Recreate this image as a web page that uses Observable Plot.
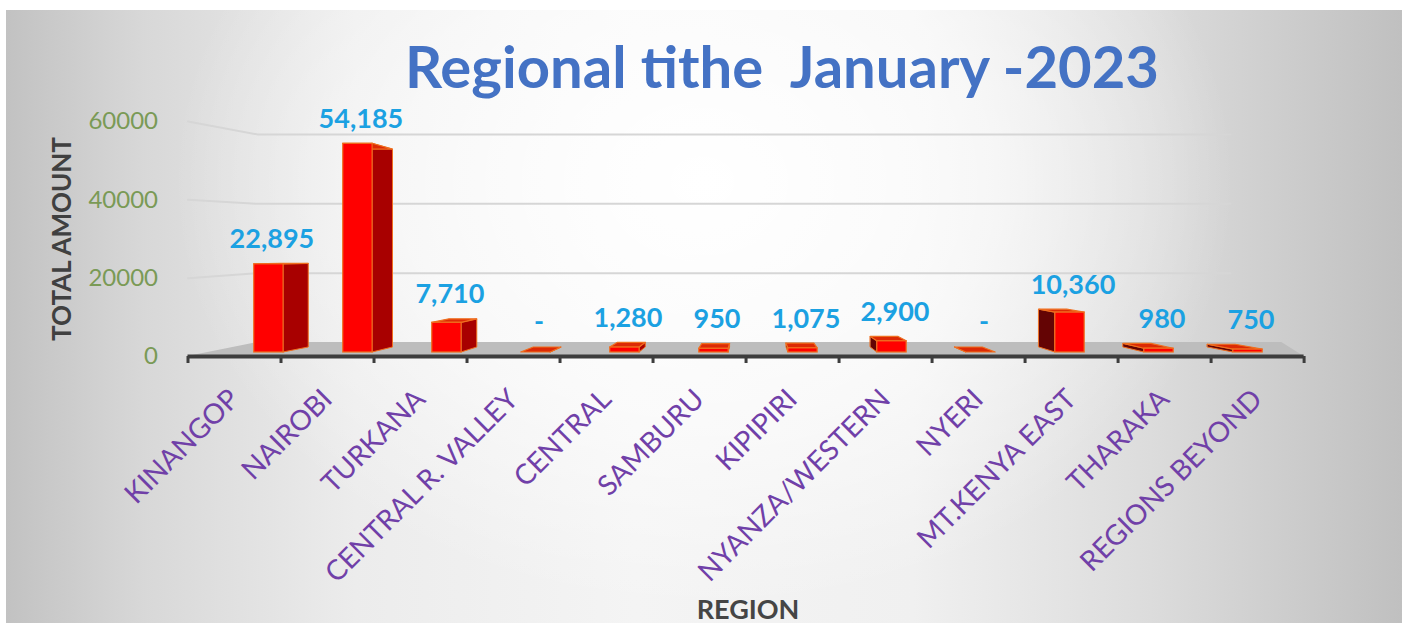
<!DOCTYPE html>
<html>
<head>
<meta charset="utf-8">
<script src="https://cdn.jsdelivr.net/npm/d3@7"></script>
<script src="https://cdn.jsdelivr.net/npm/@observablehq/plot@0.6"></script>
<style>
  html, body { margin: 0; padding: 0; background: #ffffff; width: 1402px; height: 623px; overflow: hidden; }
  #wrap { position: relative; width: 1402px; height: 623px; }
  #bg {
    position: absolute; left: 6px; top: 10px; right: 0; bottom: 0;
    background:
      radial-gradient(ellipse 38% 70% at 50% 28%, rgba(255,255,255,1) 0%, rgba(255,255,255,0.6) 55%, rgba(255,255,255,0) 100%),
      linear-gradient(to right, #c2c2c2 0%, #d8d8d8 10%, #ececec 25%, #f4f4f4 45%, #f0f0f0 65%, #dcdcdc 82%, #c0c0c0 100%);
  }
  #chart { position: absolute; left: 0; top: 0; }
  #title {
    position: absolute; left: 405px; top: 37px;
    font-family: Lato, "Open Sans", sans-serif; font-weight: 700; font-size: 58px; line-height: 58px;
    letter-spacing: 0px; color: #4472c4; white-space: pre;
  }
</style>
</head>
<body>
<div id="wrap">
  <div id="bg"></div>
  <div id="chart"></div>
  <div id="title">Regional tithe  January -2023</div>
</div>
<script>
// ---------- data ----------
const regions = ["KINANGOP", "NAIROBI", "TURKANA", "CENTRAL R. VALLEY", "CENTRAL", "SAMBURU",
                 "KIPIPIRI", "NYANZA/WESTERN", "NYERI", "MT.KENYA EAST", "THARAKA", "REGIONS BEYOND"];
const tithe = [22895, 54185, 7710, 0, 1280, 950, 1075, 2900, 0, 10360, 980, 750];
const yTicks = [0, 20000, 40000, 60000];
const gridValues = [20000, 40000, 60000];

// ---------- 3D look (projection of depth planes, in data units) ----------
const BAR = {
  uc: 6.1,                       // horizontal vanishing position (band units)
  front: {su: 0.957, a: 1022, b: 0.9834},
  back:  {su: 0.906, a: 2299, b: 0.9323},
  u0: 0.47, u1: 0.80             // bar extent inside its band
};
const BOX = {uc: 9.09, su: 0.9175, a: 3590, b: 0.8846, wallEnd: 11.4};
const pu = (u, p) => BAR.uc + (u - BAR.uc) * p.su;
const pv = (v, p) => p.a + p.b * v;
const bu = u => BOX.uc + (u - BOX.uc) * BOX.su;
const bv = v => BOX.a + BOX.b * v;

const F = BAR.front, B = BAR.back;
const bars = regions.map((r, i) => {
  const v = tithe[i];
  return {
    r, i, v,
    fl: pu(i + BAR.u0, F), fr: pu(i + BAR.u1, F),
    bl: pu(i + BAR.u0, B), br: pu(i + BAR.u1, B),
    fy0: pv(0, F), fy1: pv(v, F), by0: pv(0, B), by1: pv(v, B),
    rightSide: (i + (BAR.u0 + BAR.u1) / 2) < BAR.uc
  };
});

const sideRight = bars.filter(d => d.rightSide).flatMap(d => [
  {id: d.i, u: d.fr, y1: d.fy0, y2: d.fy1},
  {id: d.i, u: d.br, y1: d.by0, y2: d.by1}
]);
const sideLeft = bars.filter(d => !d.rightSide).flatMap(d => [
  {id: d.i, u: d.bl, y1: d.by0, y2: d.by1},
  {id: d.i, u: d.fl, y1: d.fy0, y2: d.fy1}
]);
const tops = bars.flatMap(d => [
  {id: d.i, v: d.fy1, x1: d.fl, x2: d.fr},
  {id: d.i, v: d.by1, x1: d.bl, x2: d.br}
]);

const n = regions.length;
const floor = [
  {v: 0, x1: 0, x2: n},
  {v: bv(0), x1: bu(0), x2: bu(n)}
];
const grid = gridValues.flatMap(t => [
  {t, u: 0, v: t},
  {t, u: bu(0), v: bv(t)},
  {t, u: bu(BOX.wallEnd), v: bv(t)}
]);

const fmt = d3.format(",");
const edge = "#ef6f1f";

const chart = Plot.plot({
  width: 1402,
  height: 623,
  marginLeft: 187.5,
  marginRight: 98.4,
  marginTop: 121,
  marginBottom: 267,
  x: {domain: [0, n]},
  y: {domain: [0, 60000]},
  style: {background: "transparent", fontFamily: "Lato, 'Open Sans', sans-serif", overflow: "visible"},
  marks: [
    // floor and back-wall gridlines
    Plot.areaX(floor, {y: "v", x1: "x1", x2: "x2", fill: "#bdbdbd"}),
    Plot.line(grid, {x: "u", y: "v", z: "t", stroke: "#d6d6d6", strokeWidth: 2}),
    // axis line and ticks
    Plot.ruleY([0], {stroke: "#3d3d3d", strokeWidth: 4}),
    Plot.axisX({ticks: d3.range(n + 1), tickSize: 7, tickFormat: () => "", stroke: "#3d3d3d", strokeWidth: 3, label: null}),
    // 3D bars
    Plot.areaY(sideRight, {x: "u", y1: "y1", y2: "y2", z: "id", fill: "#a80000", stroke: edge, strokeWidth: 1}),
    Plot.areaY(sideLeft, {x: "u", y1: "y1", y2: "y2", z: "id", fill: "#640404", stroke: edge, strokeWidth: 1}),
    Plot.areaX(tops, {y: "v", x1: "x1", x2: "x2", z: "id", fill: "#dc2a05", stroke: edge, strokeWidth: 1.2}),
    Plot.rect(bars, {x1: "fl", x2: "fr", y1: "fy0", y2: "fy1", fill: "#ff0000", stroke: edge, strokeWidth: 1.2}),
    // value labels
    Plot.text(bars, {
      x: d => (d.fl + d.fr) / 2, y: d => Math.max(d.fy1, d.by1),
      text: d => d.v === 0 ? "-" : fmt(d.v),
      dx: 3, dy: -16, lineAnchor: "bottom", textAnchor: "middle",
      fill: "#1ba1e2", fontSize: 27, fontWeight: 700
    }),
    // y axis
    Plot.axisY({ticks: yTicks, tickSize: 0, tickPadding: 30, tickFormat: d => String(d),
                fontSize: 24, color: "#7a9a56", label: null}),
    // x axis category labels
    Plot.axisX({ticks: d3.range(n).map(i => i + 0.5), tickSize: 0, tickPadding: 38,
                tickRotate: -45, tickFormat: d => regions[Math.floor(d)],
                fontSize: 28, color: "#7040a8", label: null}),
    // axis titles
    Plot.text(["TOTAL AMOUNT"], {frameAnchor: "left", dx: -125.5, rotate: -90,
              textAnchor: "middle", lineAnchor: "middle",
              fontSize: 26, fontWeight: 700, fill: "#404040"}),
    Plot.text(["REGION"], {frameAnchor: "bottom", dx: 2, dy: 262, lineAnchor: "bottom",
              fontSize: 27, fontWeight: 700, fill: "#454545"})
  ]
});
document.getElementById("chart").appendChild(chart);
</script>
</body>
</html>
